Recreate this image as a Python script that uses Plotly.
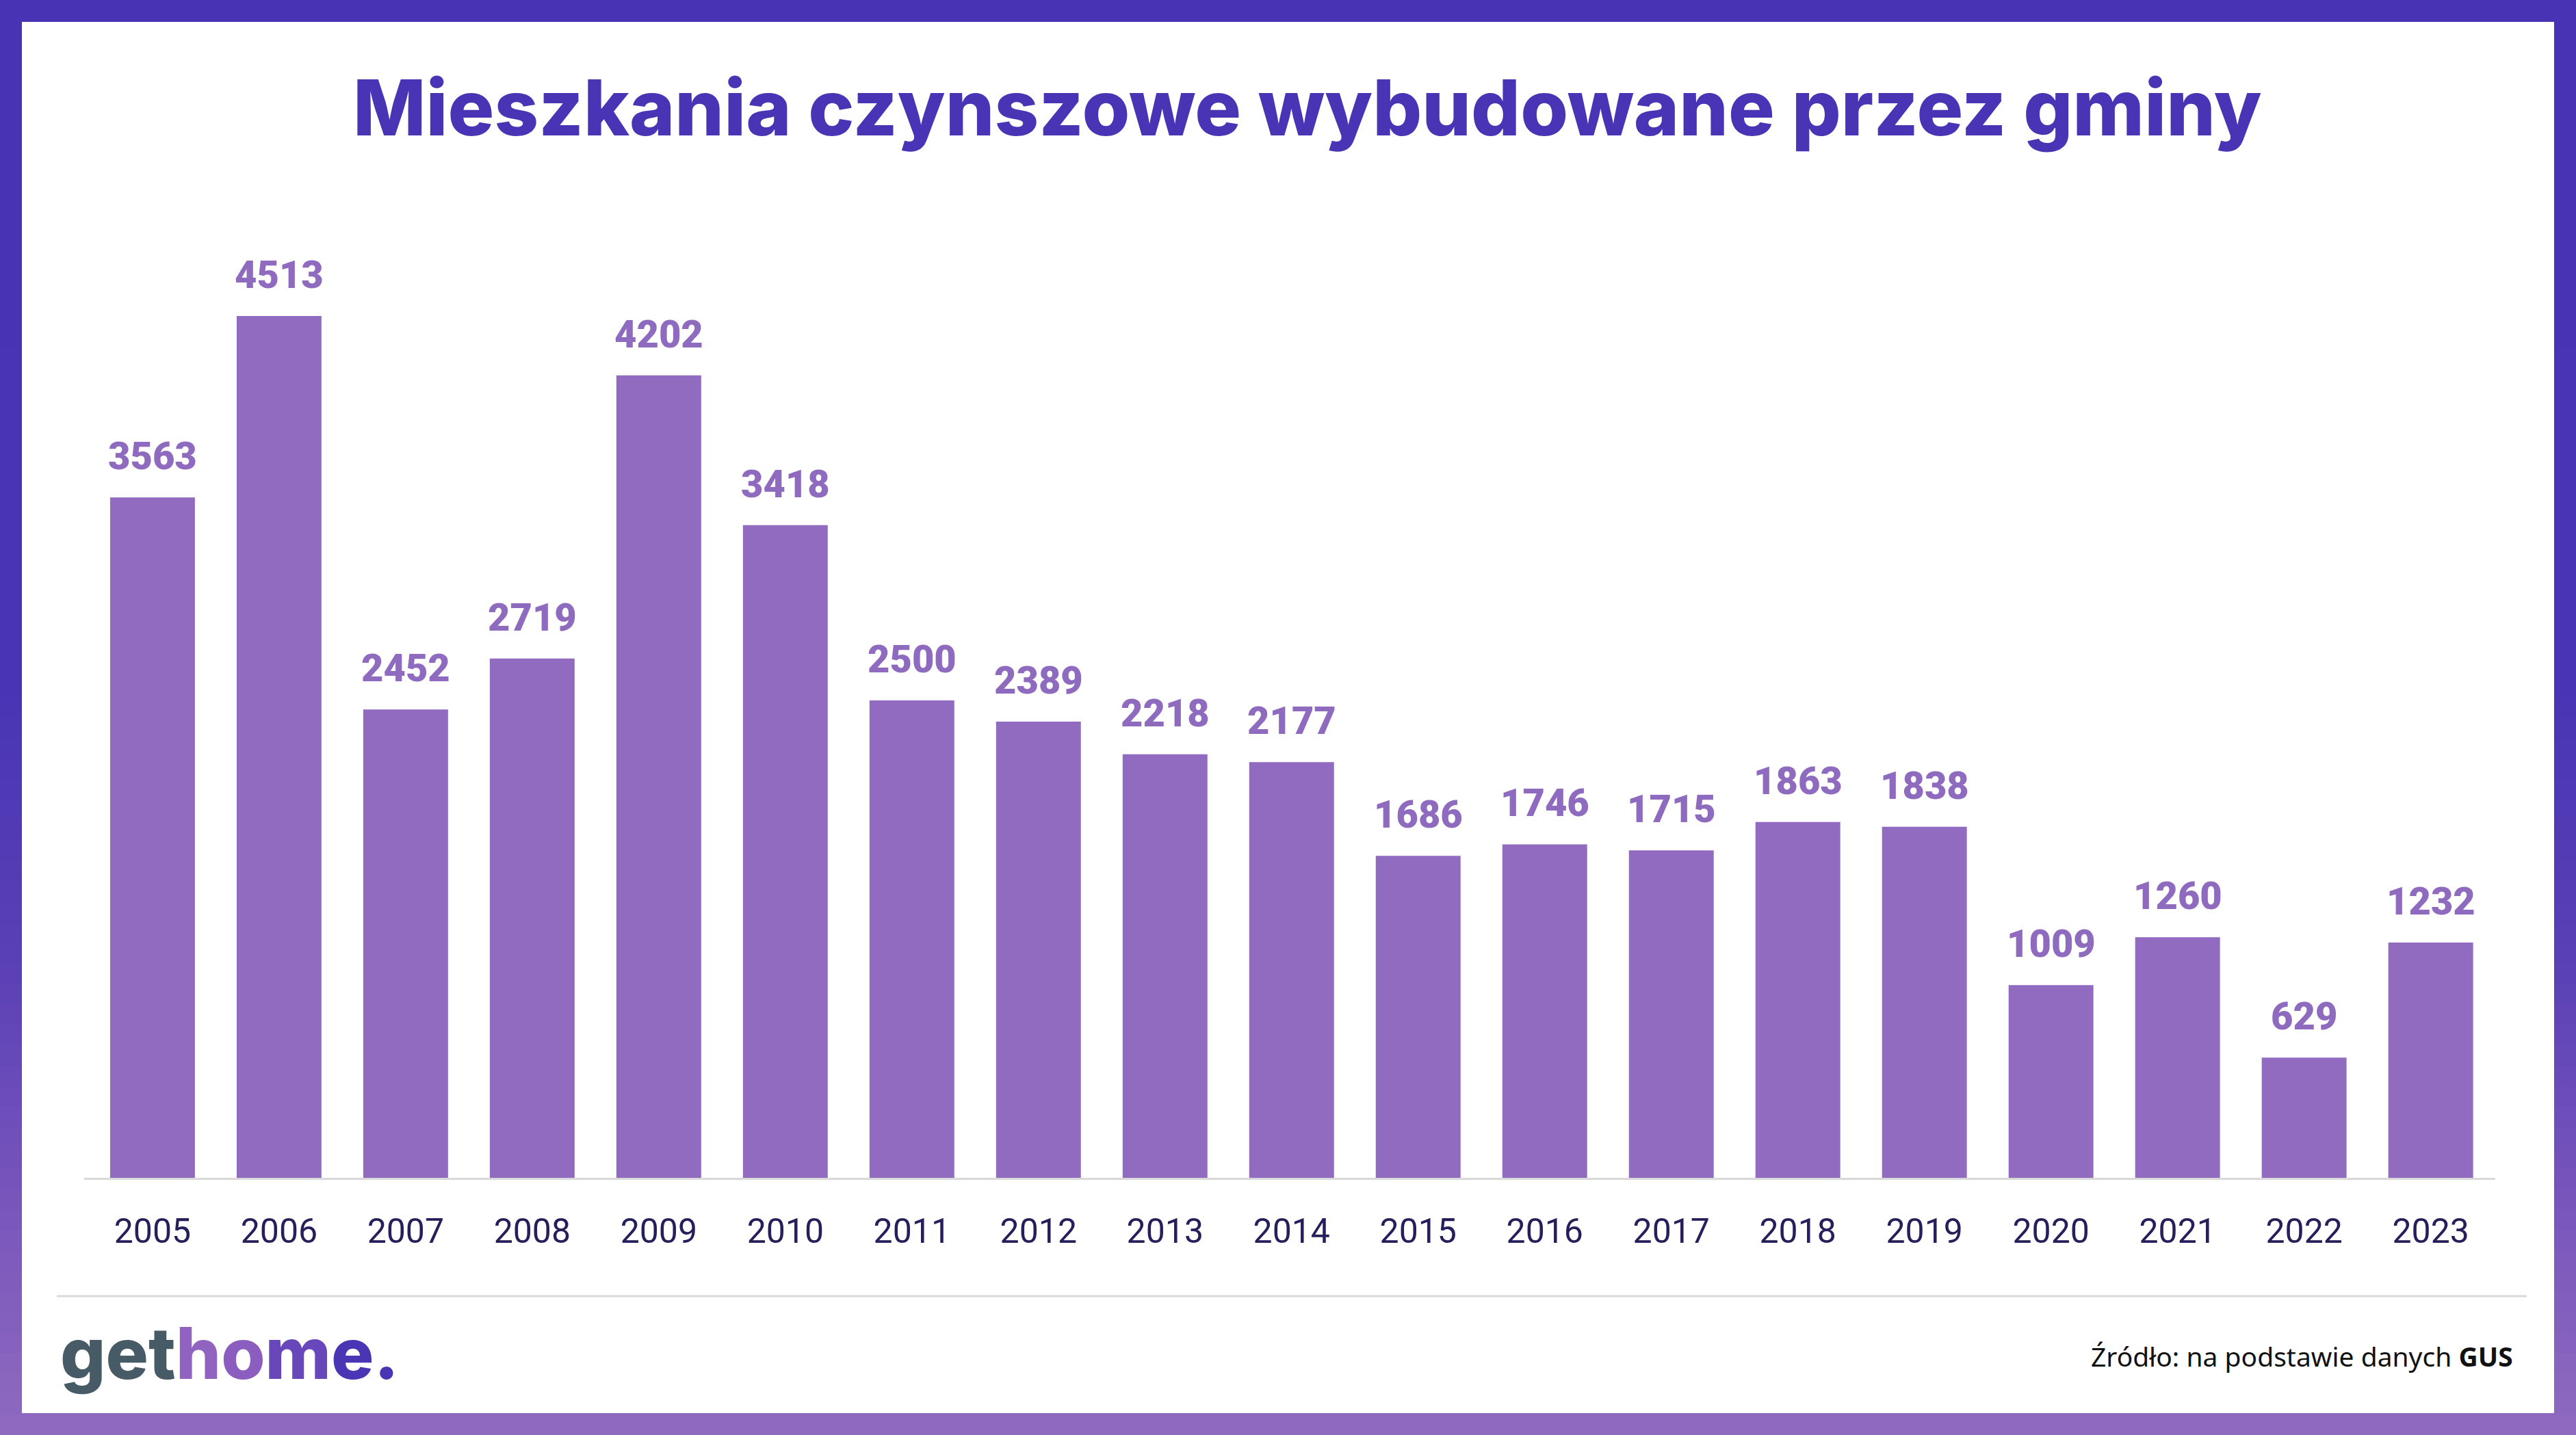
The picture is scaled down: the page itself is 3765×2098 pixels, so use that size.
import plotly.graph_objects as go

# ---------------- data ----------------
years = ["2005", "2006", "2007", "2008", "2009", "2010", "2011", "2012", "2013", "2014",
         "2015", "2016", "2017", "2018", "2019", "2020", "2021", "2022", "2023"]
values = [3563, 4513, 2452, 2719, 4202, 3418, 2500, 2389, 2218, 2177,
          1686, 1746, 1715, 1863, 1838, 1009, 1260, 629, 1232]

title_text = "Mieszkania czynszowe wybudowane przez gminy"
source_text = "Źródło: na podstawie danych <b>GUS</b>"

# ---------------- layout geometry ----------------
W, H = 3765, 2098
ML, MR, MT, MB = 123, 118, 150, 376
PW = W - ML - MR
PH = H - MT - MB


def px(x):
    return (x - ML) / PW


def py(y):
    return (H - MB - y) / PH


BAR_COLOR = "#906BC0"
LABEL_COLOR = "#8F6BBF"
TITLE_COLOR = "#4834B4"
TICK_COLOR = "#25205B"


def hex2rgb(h):
    h = h.lstrip("#")
    return tuple(int(h[i:i + 2], 16) for i in (0, 2, 4))


stops = [(0, "#4733B3"), (1000, "#4834B4"), (1400, "#5A40B6"),
         (1800, "#7B58BC"), (2098, "#8F6ABF")]


def grad_color(y):
    for (y0, c0), (y1, c1) in zip(stops[:-1], stops[1:]):
        if y0 <= y <= y1:
            t = (y - y0) / (y1 - y0)
            a, b = hex2rgb(c0), hex2rgb(c1)
            return "rgb(%d,%d,%d)" % tuple(round(a[i] + (b[i] - a[i]) * t) for i in range(3))
    return stops[-1][1]


shapes = []
NB = 70
band = H / NB
for i in range(NB):
    y0 = i * band
    y1 = (i + 1) * band + 1
    shapes.append(dict(type="rect", xref="paper", yref="paper", layer="below",
                       x0=px(0), x1=px(W), y0=py(y0), y1=py(min(y1, H)),
                       line=dict(width=0), fillcolor=grad_color((y0 + y1) / 2)))
# white card
shapes.append(dict(type="rect", xref="paper", yref="paper", layer="below",
                   x0=px(32), x1=px(W - 32), y0=py(32), y1=py(H - 32),
                   line=dict(width=0), fillcolor="white"))
# separator line
shapes.append(dict(type="line", xref="paper", yref="paper", layer="below",
                   x0=px(83), x1=px(3693), y0=py(1895), y1=py(1895),
                   line=dict(color="#D9D9D9", width=3)))

fig = go.Figure()
fig.add_trace(go.Bar(x=years, y=values, marker=dict(color=BAR_COLOR, line=dict(width=0)),
                     hoverinfo="x+y"))

annotations = []
for i, v in enumerate(values):
    annotations.append(dict(x=i, y=v, xref="x", yref="y", text=str(v), showarrow=False,
                            yanchor="bottom", xanchor="center", yshift=25,
                            font=dict(family="Roboto", size=56, color=LABEL_COLOR, weight=900)))

annotations.append(dict(x=px(1911), y=py(157), xref="paper", yref="paper", text=title_text,
                        showarrow=False, xanchor="center", yanchor="middle",
                        font=dict(family="Inter", size=113, color=TITLE_COLOR, weight=800)))

logo = ("<span style='color:#475B66'>get</span>"
        "<span style='color:#9163C0'>h</span>"
        "<span style='color:#8A5DBF'>o</span>"
        "<span style='color:#6747B9'>m</span>"
        "<span style='color:#4A35B4'>e.</span>")
annotations.append(dict(x=px(86), y=py(1978), xref="paper", yref="paper", text=logo,
                        showarrow=False, xanchor="left", yanchor="middle",
                        font=dict(family="Inter", size=104, color="#475B66", weight=800)))

annotations.append(dict(x=px(3675), y=py(1982), xref="paper", yref="paper", text=source_text,
                        showarrow=False, xanchor="right", yanchor="middle",
                        font=dict(family="Noto Sans", size=39, color="#111111")))

fig.update_layout(
    width=W, height=H,
    margin=dict(l=ML, r=MR, t=MT, b=MB, pad=0),
    paper_bgcolor="#4733B3",
    plot_bgcolor="rgba(0,0,0,0)",
    showlegend=False,
    bargap=0.33,
    shapes=shapes,
    annotations=annotations,
    xaxis=dict(type="category", range=[-0.54, 18.51], showgrid=False, zeroline=False,
               showline=True, linecolor="#D9D9D9", linewidth=3,
               ticks="", ticklabelstandoff=32,
               tickfont=dict(family="Roboto", size=50, color=TICK_COLOR)),
    yaxis=dict(range=[0, 5630], visible=False, showgrid=False, zeroline=False),
)

fig.write_html("out.html", post_script="document.body.style.margin='0';")
